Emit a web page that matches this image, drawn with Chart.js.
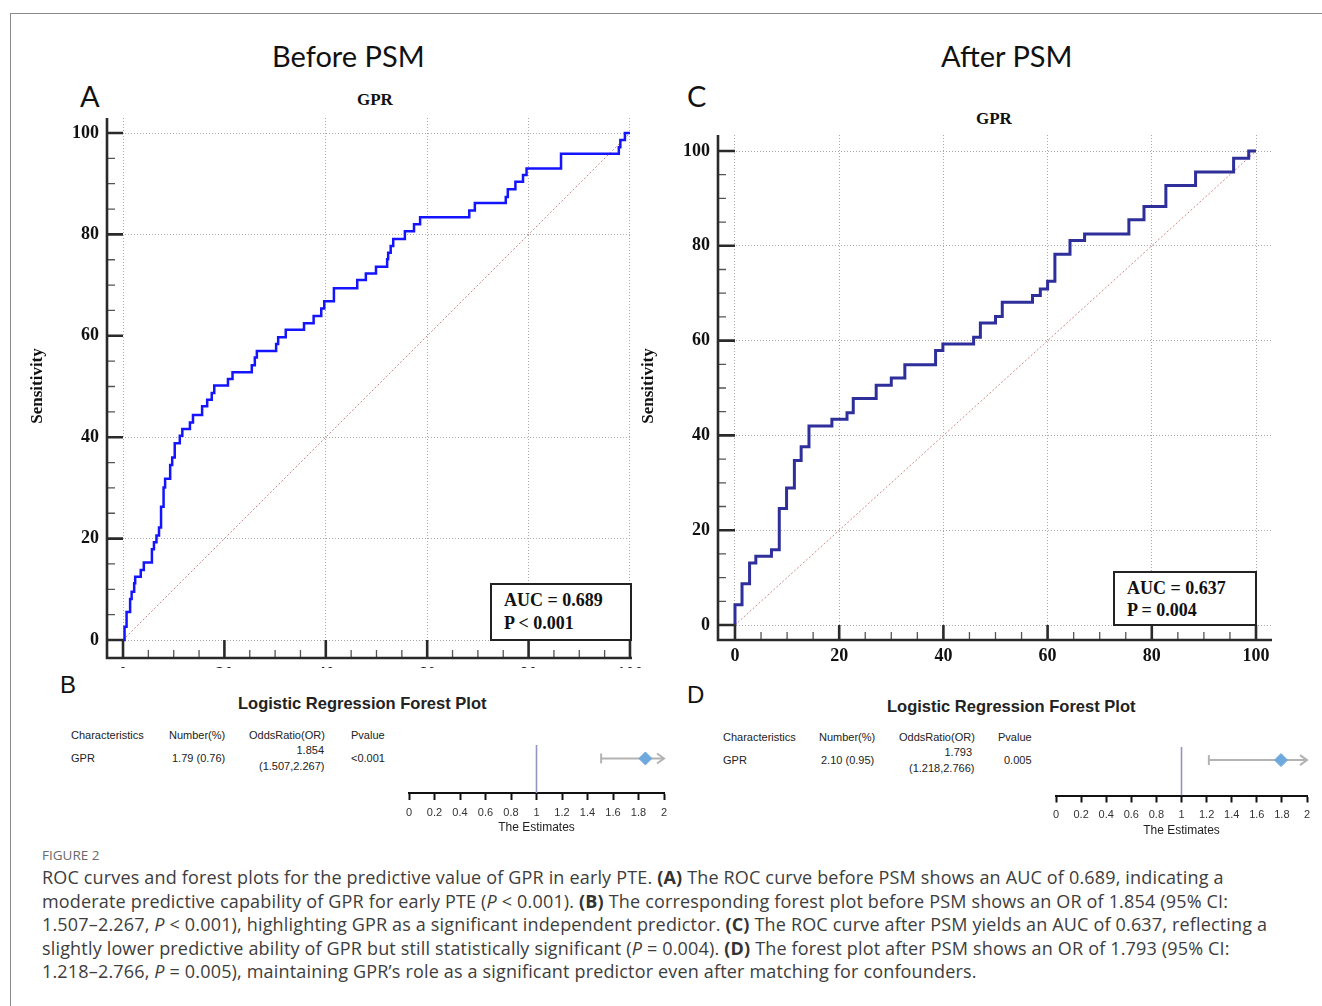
<!DOCTYPE html>
<html>
<head>
<meta charset="utf-8">
<script src="https://cdn.jsdelivr.net/npm/chart.js@4.4.1/dist/chart.umd.min.js"></script>
<style>
body { margin: 0; background: #fff; width: 1322px; height: 1006px; position: relative; overflow: hidden; font-family: "Liberation Sans", Arial, sans-serif; }
.abs { position: absolute; white-space: nowrap; }
canvas { position: absolute; }
#frame { position: absolute; left: 10px; top: 13px; width: 1330px; height: 1010px; border-top: 1.5px solid #8a8a8a; border-left: 1.5px solid #8a8a8a; }
.big { font-family: Lato, "Open Sans", sans-serif; font-size: 29px; color: #111; }
.gpr { font-family: "Liberation Serif", serif; font-weight: bold; font-size: 17px; color: #111; }
.auc { position: absolute; background: #fff; border: 2px solid #222; font-family: "Liberation Serif", serif; font-weight: bold; font-size: 18px; color: #111; box-sizing: border-box; padding-left: 12px; }
.tb { font-size: 11px; color: #222; line-height: 12px; }
.fp-title { font-weight: bold; font-size: 16.5px; color: #222; }
.cap { font-family: "Open Sans", sans-serif; font-size: 18px; letter-spacing: 0.17px; color: #3d3d3d; line-height: 23.5px; }
.cap b { font-weight: 700; color: #333; }
</style>
</head>
<body>
<div id="frame"></div>

<div class="abs big" style="left:272px; top:38px;">Before PSM</div>
<div class="abs big" style="left:941px; top:38px;">After PSM</div>
<div class="abs big" style="left:80px; top:78px;">A</div>
<div class="abs big" style="left:687px; top:78px;">C</div>
<div class="abs gpr" style="left:357px; top:90px;">GPR</div>
<div class="abs gpr" style="left:976px; top:109px;">GPR</div>

<canvas id="rocA" width="640" height="558" style="left:20px; top:110px;"></canvas>
<canvas id="rocC" width="670" height="550" style="left:630px; top:125px;"></canvas>

<div class="auc" style="left:490px; top:583px; width:142px; height:58px; line-height:23px; padding-top:4px;">AUC = 0.689<br>P &lt; 0.001</div>
<div class="auc" style="left:1113px; top:571px; width:144px; height:55px; line-height:22px; padding-top:4px;">AUC = 0.637<br>P = 0.004</div>

<div class="abs" style="left:60px; top:671px; font-size:24px; color:#111;">B</div>
<div class="abs" style="left:687px; top:681px; font-size:24px; color:#111;">D</div>
<div class="abs fp-title" style="left:238px; top:694px;">Logistic Regression Forest Plot</div>
<div class="abs fp-title" style="left:887px; top:697px;">Logistic Regression Forest Plot</div>

<div class="abs tb" style="left:71px; top:729px;">Characteristics</div>
<div class="abs tb" style="left:169px; top:729px;">Number(%)</div>
<div class="abs tb" style="left:249px; top:729px;">OddsRatio(OR)</div>
<div class="abs tb" style="left:351px; top:729px;">Pvalue</div>
<div class="abs tb" style="left:71px; top:752px;">GPR</div>
<div class="abs tb" style="left:172px; top:752px;">1.79 (0.76)</div>
<div class="abs tb" style="left:224px; width:100px; text-align:right; top:744px;">1.854</div>
<div class="abs tb" style="left:259px; top:760px;">(1.507,2.267)</div>
<div class="abs tb" style="left:351px; top:752px;">&lt;0.001</div>

<div class="abs tb" style="left:723px; top:731px;">Characteristics</div>
<div class="abs tb" style="left:819px; top:731px;">Number(%)</div>
<div class="abs tb" style="left:899px; top:731px;">OddsRatio(OR)</div>
<div class="abs tb" style="left:998px; top:731px;">Pvalue</div>
<div class="abs tb" style="left:723px; top:754px;">GPR</div>
<div class="abs tb" style="left:821px; top:754px;">2.10 (0.95)</div>
<div class="abs tb" style="left:872px; width:100px; text-align:right; top:746px;">1.793</div>
<div class="abs tb" style="left:909px; top:762px;">(1.218,2.766)</div>
<div class="abs tb" style="left:1004px; top:754px;">0.005</div>

<canvas id="fpB" width="285" height="106" style="left:395px; top:735px;"></canvas>
<canvas id="fpD" width="280" height="107" style="left:1042px; top:737px;"></canvas>

<div class="abs" style="left:42px; top:846px; font-family:'Open Sans',sans-serif; font-size:13.5px; color:#6a6a6a;">FIGURE 2</div>
<div class="abs cap" style="left:42px; top:866px;">
ROC curves and forest plots for the predictive value of GPR in early PTE. <b>(A)</b> The ROC curve before PSM shows an AUC of 0.689, indicating a<br>
moderate predictive capability of GPR for early PTE (<i>P</i> &lt; 0.001). <b>(B)</b> The corresponding forest plot before PSM shows an OR of 1.854 (95% CI:<br>
1.507–2.267, <i>P</i> &lt; 0.001), highlighting GPR as a significant independent predictor. <b>(C)</b> The ROC curve after PSM yields an AUC of 0.637, reflecting a<br>
slightly lower predictive ability of GPR but still statistically significant (<i>P</i> = 0.004). <b>(D)</b> The forest plot after PSM shows an OR of 1.793 (95% CI:<br>
1.218–2.766, <i>P</i> = 0.005), maintaining GPR’s role as a significant predictor even after matching for confounders.
</div>

<script>
// ROC curves (100 - specificity, sensitivity)
const rocTicks = [0, 20, 40, 60, 80, 100];
const beforeFpr = [0, 0.3, 0.7, 1.4, 1.7, 2.2, 2.4, 3.5, 4.1, 5.7, 6.1, 6.6, 7.1, 7.5, 8.0, 8.3, 9.3, 9.7, 10.2, 11.2, 11.7, 13.2, 13.8, 15.6, 16.6, 17.5, 18.0, 20.7, 21.6, 25.4, 26.0, 26.4, 30.2, 30.6, 32.1, 35.7, 37.6, 39.1, 39.7, 41.6, 46.2, 47.9, 49.9, 52.1, 52.3, 52.8, 53.3, 55.6, 57.4, 58.6, 68.3, 69.4, 75.5, 75.9, 77.4, 78.9, 79.6, 86.4, 97.8, 98.1, 99.0, 100];
const beforeTpr = [0, 2.6, 5.5, 8.1, 9.5, 11.2, 12.5, 13.8, 15.3, 17.9, 19.3, 20.6, 22.2, 26.3, 30.1, 31.8, 34.5, 36.0, 38.8, 40.3, 41.6, 42.9, 44.4, 46.1, 47.4, 48.7, 50.2, 51.5, 52.8, 54.2, 55.7, 57.0, 58.4, 59.7, 61.2, 62.5, 63.9, 65.4, 66.8, 69.4, 71.0, 72.3, 73.6, 75.1, 76.4, 77.7, 79.1, 80.6, 82.0, 83.4, 84.7, 86.2, 87.4, 88.9, 90.4, 91.7, 93.0, 95.9, 97.2, 98.6, 100, 100];
const afterFpr = [0, 0, 1.35, 2.8, 4.0, 7.0, 8.5, 9.9, 11.4, 12.7, 14.2, 18.6, 21.5, 22.7, 27.1, 30.0, 32.6, 38.5, 39.9, 45.8, 47.1, 50.0, 51.3, 57.1, 58.6, 60.0, 61.4, 64.3, 67.1, 75.6, 78.5, 82.7, 88.4, 95.7, 98.6, 100];
const afterTpr = [0, 4.3, 8.7, 13.1, 14.5, 15.9, 24.6, 28.9, 34.7, 37.6, 42.0, 43.4, 44.8, 47.8, 50.6, 52.1, 54.9, 57.9, 59.3, 60.7, 63.7, 65.1, 68.1, 69.5, 70.9, 72.5, 78.2, 81.1, 82.5, 85.5, 88.3, 92.7, 95.6, 98.5, 100, 100];
const chanceX = [0, 100];
const chanceY = [0, 100];

// forest plots
const forestTicks = [0, 0.2, 0.4, 0.6, 0.8, 1, 1.2, 1.4, 1.6, 1.8, 2];
const forestRef = 1;
const orBefore = 1.854, ciBefore = [1.507, 2.267];
const orAfter = 1.793, ciAfter = [1.218, 2.766];

const rocAxes = {
  id: 'rocAxes',
  afterDraw(chart, args, o) {
    const { ctx, chartArea: a, scales: { x, y } } = chart;
    const x0 = x.getPixelForValue(0), y0 = y.getPixelForValue(0);
    ctx.save();
    // minor ticks
    ctx.strokeStyle = '#555';
    ctx.lineWidth = 1.3;
    ctx.beginPath();
    for (let v = 5; v < 100; v += 5) {
      if (v % 20 === 0) continue;
      const py = y.getPixelForValue(v), px = x.getPixelForValue(v);
      ctx.moveTo(a.left, py); ctx.lineTo(a.left + 8, py);
      ctx.moveTo(px, a.bottom); ctx.lineTo(px, a.bottom - 8);
    }
    ctx.stroke();
    // axis lines and major ticks
    ctx.strokeStyle = '#2a2a2a';
    ctx.lineWidth = 2.6;
    ctx.beginPath();
    ctx.moveTo(a.left, a.top); ctx.lineTo(a.left, a.bottom); ctx.lineTo(a.right, a.bottom);
    rocTicks.forEach(v => {
      const py = y.getPixelForValue(v), px = x.getPixelForValue(v);
      ctx.moveTo(a.left, py); ctx.lineTo(x0, py);
      ctx.moveTo(px, a.bottom); ctx.lineTo(px, y0);
    });
    ctx.stroke();
    // labels
    ctx.fillStyle = '#111';
    ctx.font = 'bold 18px "Liberation Serif", serif';
    ctx.textAlign = 'right';
    ctx.textBaseline = 'middle';
    rocTicks.forEach(v => ctx.fillText(String(v), a.left - 8, y.getPixelForValue(v)));
    ctx.textAlign = 'center';
    rocTicks.forEach(v => ctx.fillText(String(v), x.getPixelForValue(v), a.bottom + o.xLabelGap));
    ctx.font = 'bold 17px "Liberation Serif", serif';
    ctx.translate(o.titleX, o.titleY);
    ctx.rotate(-Math.PI / 2);
    ctx.fillText('Sensitivity', 0, 0);
    ctx.restore();
  }
};

function makeRoc(id, fpr, tpr, cfg) {
  const gridColor = hidden => c => (hidden.includes(c.tick.value) ? 'rgba(0,0,0,0)' : '#a9a9a9');
  return new Chart(document.getElementById(id), {
    type: 'scatter',
    data: {
      datasets: [
        {
          data: fpr.map((v, i) => ({ x: v, y: tpr[i] })),
          showLine: true, stepped: 'before',
          borderColor: cfg.color, borderWidth: cfg.width,
          pointRadius: 0, fill: false, order: 1
        },
        {
          data: chanceX.map((v, i) => ({ x: v, y: chanceY[i] })),
          showLine: true, borderColor: '#d08888', borderWidth: 1,
          borderDash: [2, 2], pointRadius: 0, fill: false, order: 2
        }
      ]
    },
    options: {
      responsive: false,
      animation: false,
      layout: { padding: cfg.padding },
      plugins: { legend: { display: false }, tooltip: { enabled: false }, rocAxes: cfg.axes },
      scales: {
        x: {
          type: 'linear', min: cfg.xr[0], max: cfg.xr[1],
          afterBuildTicks: s => { s.ticks = rocTicks.map(v => ({ value: v })); },
          ticks: { display: false },
          grid: { color: gridColor(cfg.hideX), lineWidth: 1, drawTicks: false },
          border: { display: false, dash: [1, 2] }
        },
        y: {
          type: 'linear', min: cfg.yr[0], max: cfg.yr[1],
          afterBuildTicks: s => { s.ticks = rocTicks.map(v => ({ value: v })); },
          ticks: { display: false },
          grid: { color: gridColor(cfg.hideY), lineWidth: 1, drawTicks: false },
          border: { display: false, dash: [1, 2] }
        }
      }
    },
    plugins: [rocAxes]
  });
}

makeRoc('rocA', beforeFpr, beforeTpr, {
  color: '#1414ff', width: 2.5,
  padding: { left: 87, right: 28, top: 8, bottom: 10 },
  xr: [-3.16, 100.4], yr: [-3.55, 102.96],
  hideX: [20], hideY: [60],
  axes: { xLabelGap: 17, titleX: 18, titleY: 276 }
});
makeRoc('rocC', afterFpr, afterTpr, {
  color: '#2f2f9c', width: 3,
  padding: { left: 88, right: 28, top: 10, bottom: 35 },
  xr: [-3.26, 103.07], yr: [-3.16, 103.38],
  hideX: [], hideY: [],
  axes: { xLabelGap: 16, titleX: 19, titleY: 261 }
});

const forestArrow = {
  id: 'forestArrow',
  afterDatasetsDraw(chart, args, o) {
    const { ctx, scales: { x, y } } = chart;
    if (o.hi <= x.max) return;
    const px = x.getPixelForValue(x.max), py = y.getPixelForValue(o.row);
    ctx.save();
    ctx.strokeStyle = '#b3b3b3';
    ctx.lineWidth = 2;
    ctx.beginPath();
    ctx.moveTo(px - 7, py - 5); ctx.lineTo(px, py); ctx.lineTo(px - 7, py + 5);
    ctx.stroke();
    ctx.restore();
  }
};

function makeForest(id, or, ci, row, pad) {
  const xmax = forestTicks[forestTicks.length - 1];
  return new Chart(document.getElementById(id), {
    type: 'scatter',
    data: {
      datasets: [
        {
          data: [{ x: or, y: row }],
          pointStyle: 'rectRot', pointRadius: 6.5,
          backgroundColor: '#6fa8dc', borderColor: '#6fa8dc', clip: false
        },
        {
          data: [{ x: ci[0], y: row }, { x: Math.min(ci[1], xmax), y: row }],
          showLine: true, borderColor: '#b3b3b3', borderWidth: 2,
          pointStyle: 'line', rotation: 90, pointRadius: [5, 0],
          pointBorderColor: '#b3b3b3', pointBorderWidth: 2, clip: false
        },
        {
          data: [{ x: forestRef, y: 0 }, { x: forestRef, y: 1 }],
          showLine: true, borderColor: '#9595bd', borderWidth: 1.6, pointRadius: 0
        }
      ]
    },
    options: {
      responsive: false,
      animation: false,
      layout: { padding: pad },
      plugins: { legend: { display: false }, tooltip: { enabled: false }, forestArrow: { hi: ci[1], row: row } },
      scales: {
        x: {
          type: 'linear', min: 0, max: xmax,
          afterBuildTicks: s => { s.ticks = forestTicks.map(v => ({ value: v })); },
          ticks: {
            autoSkip: false, maxRotation: 0, padding: 6, color: '#333',
            font: { family: '"Liberation Sans", Arial', size: 11 },
            callback: v => String(Math.round(v * 10) / 10)
          },
          grid: { drawOnChartArea: false, drawTicks: true, tickLength: 7, tickColor: '#111', tickWidth: 2 },
          border: { color: '#111', width: 2 },
          title: { display: true, text: 'The Estimates', color: '#222', padding: { top: 1, bottom: 6 },
                   font: { family: '"Liberation Sans", Arial', size: 12 } }
        },
        y: { type: 'linear', min: 0, max: 1, display: false }
      }
    },
    plugins: [forestArrow]
  });
}

makeForest('fpB', orBefore, ciBefore, 0.72, { left: 14, right: 16, top: 10, bottom: 0 });
makeForest('fpD', orAfter, ciAfter, 0.73, { left: 14, right: 15, top: 10, bottom: 0 });
</script>
</body>
</html>
